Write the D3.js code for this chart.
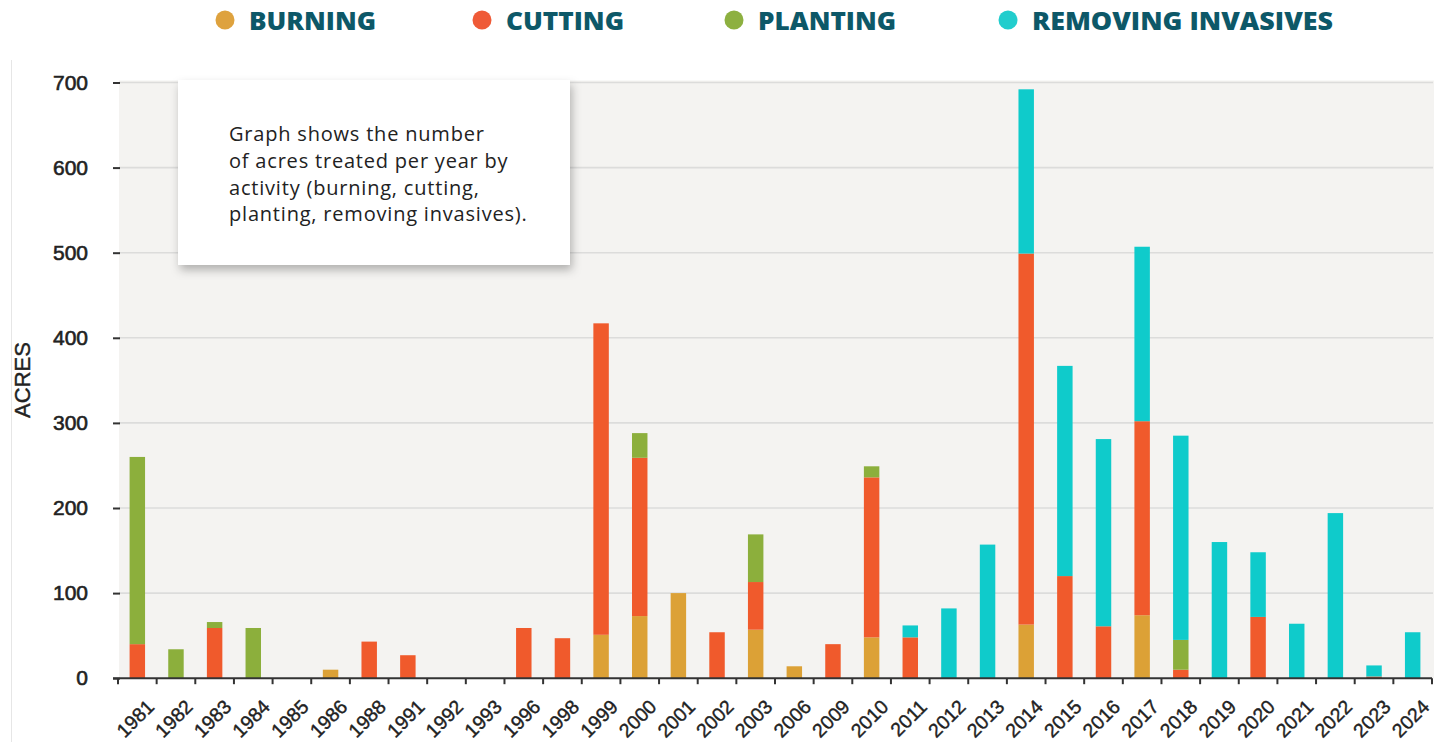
<!DOCTYPE html>
<html>
<head>
<meta charset="utf-8">
<script src="https://cdn.jsdelivr.net/npm/d3@7.9.0/dist/d3.min.js"></script>
<style>
  html, body { margin: 0; padding: 0; background: #fff; }
  svg { display: block; }
</style>
</head>
<body>
<svg id="chart" width="1448" height="742"></svg>
<script>
// acres treated per year
const years = ['1981','1982','1983','1984','1985','1986','1988','1991','1992','1993','1996','1998','1999','2000','2001','2002','2003','2006','2009','2010','2011','2012','2013','2014','2015','2016','2017','2018','2019','2020','2021','2022','2023','2024'];
const burning   = [0,0,0,0,0,10,0,0,0,0,0,0,51,73,100,0,57,14,0,48,0,0,0,63,0,0,74,0,0,0,0,0,0,0];
const cutting   = [40,0,59,0,0,0,43,27,0,0,59,47,366,186,0,54,56,0,40,188,48,0,0,436,120,61,228,10,0,72,0,0,2,0];
const planting  = [220,34,7,59,0,0,0,0,0,0,0,0,0,29,0,0,56,0,0,13,0,0,0,0,0,0,0,35,0,0,0,0,0,0];
const invasives = [0,0,0,0,0,0,0,0,0,0,0,0,0,0,0,0,0,0,0,0,14,82,157,193,247,220,205,240,160,76,64,194,13,54];

const keys = ['burning', 'cutting', 'planting', 'invasives'];
const legendLabels = ['BURNING', 'CUTTING', 'PLANTING', 'REMOVING INVASIVES'];
const barColors = ['#dca136', '#f05a2c', '#8caf3c', '#0fcbcb'];
const dotColors = ['#dea23e', '#ef5a37', '#8db040', '#22cdcd'];
const yTicks = [0, 100, 200, 300, 400, 500, 600, 700];
const noteLines = ['Graph shows the number', 'of acres treated per year by', 'activity (burning, cutting,', 'planting, removing invasives).'];

const rows = years.map((yr, i) => ({
    year: yr,
    burning: burning[i],
    cutting: cutting[i],
    planting: planting[i],
    invasives: invasives[i]
}));

const svg = d3.select('#chart');

const plotLeft = 118, plotRight = 1432, plotBottom = 678.2, plotTop = 82.5;
const axisFont = '"Liberation Sans", Arial, sans-serif';

const x = d3.scaleBand()
    .domain(years)
    .range([plotLeft, plotRight])
    .paddingInner(0.6)
    .paddingOuter(0.3);

const y = d3.scaleLinear()
    .domain([0, 700])
    .range([plotBottom, plotTop]);

const step = x.step();

// frame line on the far left
svg.append('line')
    .attr('x1', 11.5).attr('x2', 11.5)
    .attr('y1', 60).attr('y2', 742)
    .attr('stroke', '#e6e6e6').attr('stroke-width', 1);

// plot background
svg.append('rect')
    .attr('x', plotLeft + 1)
    .attr('y', y(700) - 2)
    .attr('width', plotRight + 1 - plotLeft)
    .attr('height', plotBottom - y(700) + 2)
    .attr('fill', '#f4f3f1');

// gridlines
svg.append('g')
    .selectAll('line')
    .data(yTicks.slice(1))
    .join('line')
    .attr('x1', plotLeft + 1)
    .attr('x2', plotRight + 1)
    .attr('y1', d => y(d))
    .attr('y2', d => y(d))
    .attr('stroke', '#dcdcdb')
    .attr('stroke-width', 1.6);

// y axis
const yAxis = svg.append('g')
    .attr('transform', `translate(120,0)`)
    .call(d3.axisLeft(y).tickValues(yTicks).tickSize(7).tickPadding(25));
yAxis.select('.domain').remove();
yAxis.selectAll('line').attr('stroke', '#333').attr('stroke-width', 2);
yAxis.selectAll('text')
    .attr('font-family', axisFont)
    .attr('font-size', 21)
    .attr('fill', '#222')
    .attr('stroke', '#222')
    .attr('stroke-width', 0.6);

svg.append('text')
    .attr('transform', 'translate(30,380) rotate(-90)')
    .attr('text-anchor', 'middle')
    .attr('font-family', axisFont)
    .attr('font-size', 22)
    .attr('fill', '#222')
    .attr('stroke', '#222')
    .attr('stroke-width', 0.4)
    .text('ACRES');

// stacked bars
const stacked = d3.stack().keys(keys)(rows);

svg.append('g')
    .selectAll('g')
    .data(stacked)
    .join('g')
    .attr('fill', (d, i) => barColors[i])
    .selectAll('rect')
    .data(d => d.filter(s => s[1] - s[0] > 0))
    .join('rect')
    .attr('x', d => x(d.data.year))
    .attr('width', x.bandwidth())
    .attr('y', d => y(d[1]))
    .attr('height', d => y(d[0]) - y(d[1]));

// x axis
svg.append('line')
    .attr('x1', 113).attr('x2', plotRight)
    .attr('y1', plotBottom).attr('y2', plotBottom)
    .attr('stroke', '#333').attr('stroke-width', 2);

const boundaries = years.map(yr => x(yr) + x.bandwidth() / 2 - step / 2).concat([plotRight]);
svg.append('g')
    .selectAll('line')
    .data(boundaries)
    .join('line')
    .attr('x1', d => d).attr('x2', d => d)
    .attr('y1', plotBottom).attr('y2', plotBottom + 6)
    .attr('stroke', '#333').attr('stroke-width', 2);

svg.append('g')
    .selectAll('text')
    .data(years)
    .join('text')
    .attr('transform', d => `translate(${x(d) + x.bandwidth() / 2 + 18},708) rotate(-45)`)
    .attr('text-anchor', 'end')
    .attr('font-family', axisFont)
    .attr('font-size', 19.5)
    .attr('fill', '#222')
    .attr('stroke', '#222')
    .attr('stroke-width', 0.4)
    .text(d => d);

// note box
const defs = svg.append('defs');
const shadow = defs.append('filter').attr('id', 'shadow')
    .attr('x', '-10%').attr('y', '-10%').attr('width', '130%').attr('height', '140%');
shadow.append('feDropShadow')
    .attr('dx', 2).attr('dy', 5).attr('stdDeviation', 5)
    .attr('flood-color', '#000').attr('flood-opacity', 0.28);

svg.append('rect')
    .attr('x', 178).attr('y', 80)
    .attr('width', 392).attr('height', 185)
    .attr('fill', '#fff')
    .attr('filter', 'url(#shadow)');

svg.append('g')
    .selectAll('text')
    .data(noteLines)
    .join('text')
    .attr('x', 229)
    .attr('y', (d, i) => 141 + i * 26.8)
    .attr('font-family', '"Open Sans", sans-serif')
    .attr('font-size', 20)
    .attr('letter-spacing', 0.8)
    .attr('fill', '#222')
    .text(d => d);

// legend
const legendX = [225, 482, 734, 1008];
const legendW = [127, 118, 138, 301];
const legend = svg.append('g')
    .selectAll('g')
    .data(legendLabels)
    .join('g')
    .attr('transform', (d, i) => `translate(${legendX[i]},20)`);

legend.append('circle')
    .attr('r', 9.5)
    .attr('fill', (d, i) => dotColors[i]);

legend.append('text')
    .attr('x', 24)
    .attr('y', 9.5)
    .attr('font-family', '"Open Sans", sans-serif')
    .attr('font-weight', 800)
    .attr('font-size', 25)
    .attr('textLength', (d, i) => legendW[i])
    .attr('lengthAdjust', 'spacingAndGlyphs')
    .attr('fill', '#0d5868')
    .text(d => d);
</script>
</body>
</html>
